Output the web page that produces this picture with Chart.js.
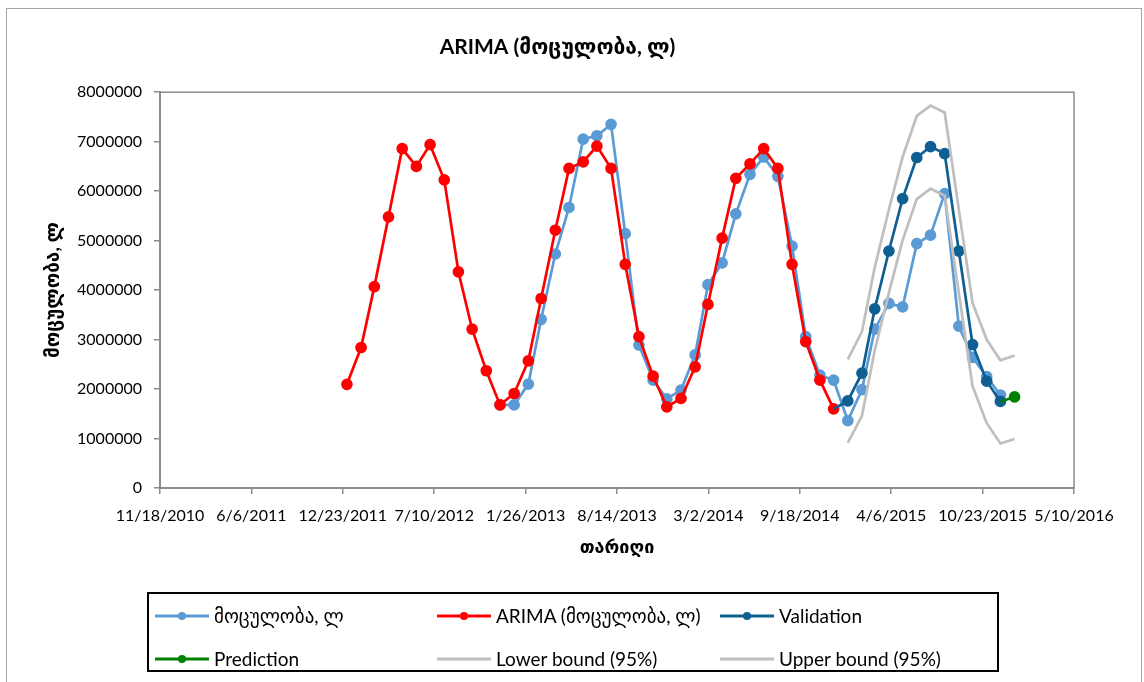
<!DOCTYPE html>
<html>
<head>
<meta charset="utf-8">
<script src="https://cdn.jsdelivr.net/npm/chart.js@4"></script>
<style>
  body { margin: 0; background: #fff; }
  #wrap { position: relative; width: 1144px; height: 682px; overflow: hidden; }
  #frame { position: absolute; left: 6px; top: 8px; width: 1134px; height: 700px; border: 1px solid #a6a6a6; }
  #legend {
    position: absolute; left: 147px; top: 592px; width: 848px; height: 76px;
    border: 2px solid #000; font-family: Lato, "DejaVu Sans", sans-serif; font-size: 19px; color: #000;
  }
  .item { position: absolute; display: flex; align-items: center; white-space: nowrap; }
  .item svg { margin-right: 4px; }
</style>
</head>
<body>
<div id="wrap">
  <div id="frame"></div>
  <canvas id="chart-area" width="1144" height="682"></canvas>
  <div id="legend"></div>
</div>
<script>
// months, first day of each month
var months = [
  '2012-01','2012-02','2012-03','2012-04','2012-05','2012-06','2012-07','2012-08','2012-09','2012-10','2012-11','2012-12',
  '2013-01','2013-02','2013-03','2013-04','2013-05','2013-06','2013-07','2013-08','2013-09','2013-10','2013-11','2013-12',
  '2014-01','2014-02','2014-03','2014-04','2014-05','2014-06','2014-07','2014-08','2014-09','2014-10','2014-11','2014-12',
  '2015-01','2015-02','2015-03','2015-04','2015-05','2015-06','2015-07','2015-08','2015-09','2015-10','2015-11','2015-12',
  '2016-01'
];

// actual volume, Dec 2012 - Dec 2015
var actualStart = '2012-12';
var actual = [
  1680000,
  1680000, 2100000, 3410000, 4730000, 5670000, 7050000, 7120000, 7350000, 5140000, 2890000, 2180000, 1800000,
  1980000, 2690000, 4110000, 4550000, 5540000, 6340000, 6690000, 6300000, 4890000, 3060000, 2280000, 2180000,
  1360000, 1990000, 3210000, 3730000, 3660000, 4940000, 5110000, 5950000, 3270000, 2640000, 2250000, 1880000
];

// ARIMA fitted, Jan 2012 - Dec 2014
var arimaStart = '2012-01';
var arima = [
  2095000, 2840000, 4070000, 5480000, 6860000, 6500000, 6940000, 6230000, 4370000, 3210000, 2370000, 1680000,
  1910000, 2570000, 3830000, 5210000, 6460000, 6590000, 6910000, 6460000, 4520000, 3060000, 2260000, 1640000,
  1810000, 2450000, 3710000, 5050000, 6260000, 6550000, 6860000, 6460000, 4520000, 2960000, 2180000, 1600000
];

// validation, Dec 2014 - Dec 2015 (first point joins the ARIMA line)
var validationStart = '2014-12';
var validation = [1600000, 1760000, 2320000, 3620000, 4790000, 5850000, 6680000, 6900000, 6760000, 4790000, 2900000, 2160000, 1750000];

// prediction, Dec 2015 - Jan 2016 (first point joins the validation line)
var predictionStart = '2015-12';
var prediction = [1750000, 1840000];

// 95% bounds, Jan 2015 - Jan 2016
var boundStart = '2015-01';
var lowerBound = [910000, 1460000, 2780000, 3950000, 5010000, 5840000, 6050000, 5910000, 3940000, 2060000, 1310000, 900000, 990000];
var upperBound = [2600000, 3160000, 4460000, 5630000, 6690000, 7520000, 7730000, 7590000, 5630000, 3740000, 3000000, 2580000, 2680000];

var seriesNames = ['მოცულობა, ლ', 'ARIMA (მოცულობა, ლ)', 'Validation', 'Prediction', 'Lower bound (95%)', 'Upper bound (95%)'];
var seriesColors = ['#5b9bd5', '#ff0000', '#0f5f92', '#008000', '#bfbfbf', '#bfbfbf'];

// Excel-style date serial numbers for the x axis
function toSerial(ym) {
  var p = ym.split('-');
  return Date.UTC(+p[0], +p[1] - 1, 1) / 86400000 + 25569;
}
function fromSerial(s) {
  var d = new Date((s - 25569) * 86400000);
  return (d.getUTCMonth() + 1) + '/' + d.getUTCDate() + '/' + d.getUTCFullYear();
}
function points(start, values) {
  var i0 = months.indexOf(start);
  return values.map(function (v, i) { return { x: toSerial(months[i0 + i]), y: v }; });
}
// marker on every point except the joining first one
function skipFirst(r) {
  return function (c) { return c.dataIndex === 0 ? 0 : r; };
}

var font = 'Lato, "DejaVu Sans", sans-serif';

var datasets = [
  { data: points(actualStart, actual), order: 5, pointRadius: 4.5 },
  { data: points(arimaStart, arima), order: 4, pointRadius: 4.5 },
  { data: points(validationStart, validation), order: 3, pointRadius: skipFirst(4.5) },
  { data: points(predictionStart, prediction), order: 2, pointRadius: skipFirst(4.5) },
  { data: points(boundStart, lowerBound), order: 1, pointRadius: 0 },
  { data: points(boundStart, upperBound), order: 0, pointRadius: 0 }
].map(function (d, i) {
  d.label = seriesNames[i];
  d.borderColor = seriesColors[i];
  d.backgroundColor = seriesColors[i];
  d.pointBackgroundColor = seriesColors[i];
  d.pointBorderColor = seriesColors[i];
  d.borderWidth = 2.7;
  d.tension = 0;
  return d;
});

var plotFrame = {
  id: 'plotFrame',
  beforeDatasetsDraw: function (chart) {
    var a = chart.chartArea, ctx = chart.ctx;
    ctx.save();
    ctx.strokeStyle = '#8c8c8c';
    ctx.lineWidth = 1.5;
    ctx.strokeRect(a.left, a.top, a.right - a.left, a.bottom - a.top);
    ctx.restore();
  }
};

var ctx = document.getElementById('chart-area').getContext('2d');
var chart = new Chart(ctx, {
  type: 'line',
  data: { datasets: datasets },
  options: {
    responsive: false,
    animation: false,
    layout: { padding: { left: 41, right: 70, top: 0, bottom: 114 } },
    plugins: {
      legend: { display: false },
      tooltip: { enabled: false },
      title: {
        display: true,
        text: 'ARIMA (მოცულობა, ლ)',
        color: '#000',
        font: { family: font, size: 21, weight: 'bold' },
        padding: { top: 35, bottom: 32 }
      }
    },
    scales: {
      x: {
        type: 'linear',
        min: 40500,
        max: 42500,
        afterFit: function (s) { s.height = 80; },
        afterBuildTicks: function (s) {
          s.ticks = [];
          for (var v = 40500; v <= 42500; v += 200) s.ticks.push({ value: v });
        },
        ticks: {
          color: '#000',
          font: { family: font, size: 16 },
          padding: 12,
          maxRotation: 0,
          autoSkip: false,
          callback: function (v) { return fromSerial(v); }
        },
        grid: { drawOnChartArea: false, color: '#8c8c8c', tickLength: 6, lineWidth: 1.5 },
        border: { color: '#8c8c8c', width: 2 },
        title: {
          display: true,
          text: 'თარიღი',
          color: '#000',
          font: { family: font, size: 18, weight: 'bold' },
          padding: { top: 0, bottom: 10 }
        }
      },
      y: {
        min: 0,
        max: 8000000,
        afterFit: function (s) { s.width = 119; },
        ticks: {
          stepSize: 1000000,
          color: '#000',
          font: { family: font, size: 16 },
          padding: 12,
          callback: function (v) { return String(v); }
        },
        grid: { drawOnChartArea: false, color: '#8c8c8c', tickLength: 6, lineWidth: 1.5 },
        border: { color: '#8c8c8c', width: 2 },
        title: {
          display: true,
          text: 'მოცულობა, ლ',
          color: '#000',
          font: { family: font, size: 19, weight: 'bold' },
          padding: { top: 0, bottom: 0 }
        }
      }
    }
  },
  plugins: [plotFrame]
});

// legend box, three columns, two rows
var legendPos = [[6, 21], [288, 21], [571, 21], [6, 64], [288, 64], [571, 64]];
var legend = document.getElementById('legend');
chart.data.datasets.forEach(function (ds, i) {
  var el = document.createElement('div');
  el.className = 'item';
  el.style.left = legendPos[i][0] + 'px';
  el.style.top = (legendPos[i][1] - 11) + 'px';
  var dot = i < 4 ? '<circle cx="27" cy="11" r="4" fill="' + ds.borderColor + '"/>' : '';
  el.innerHTML = '<svg width="55" height="22"><line x1="0" y1="11" x2="54" y2="11" stroke="' + ds.borderColor +
    '" stroke-width="3"/>' + dot + '</svg><span>' + ds.label + '</span>';
  legend.appendChild(el);
});
</script>
</body>
</html>
